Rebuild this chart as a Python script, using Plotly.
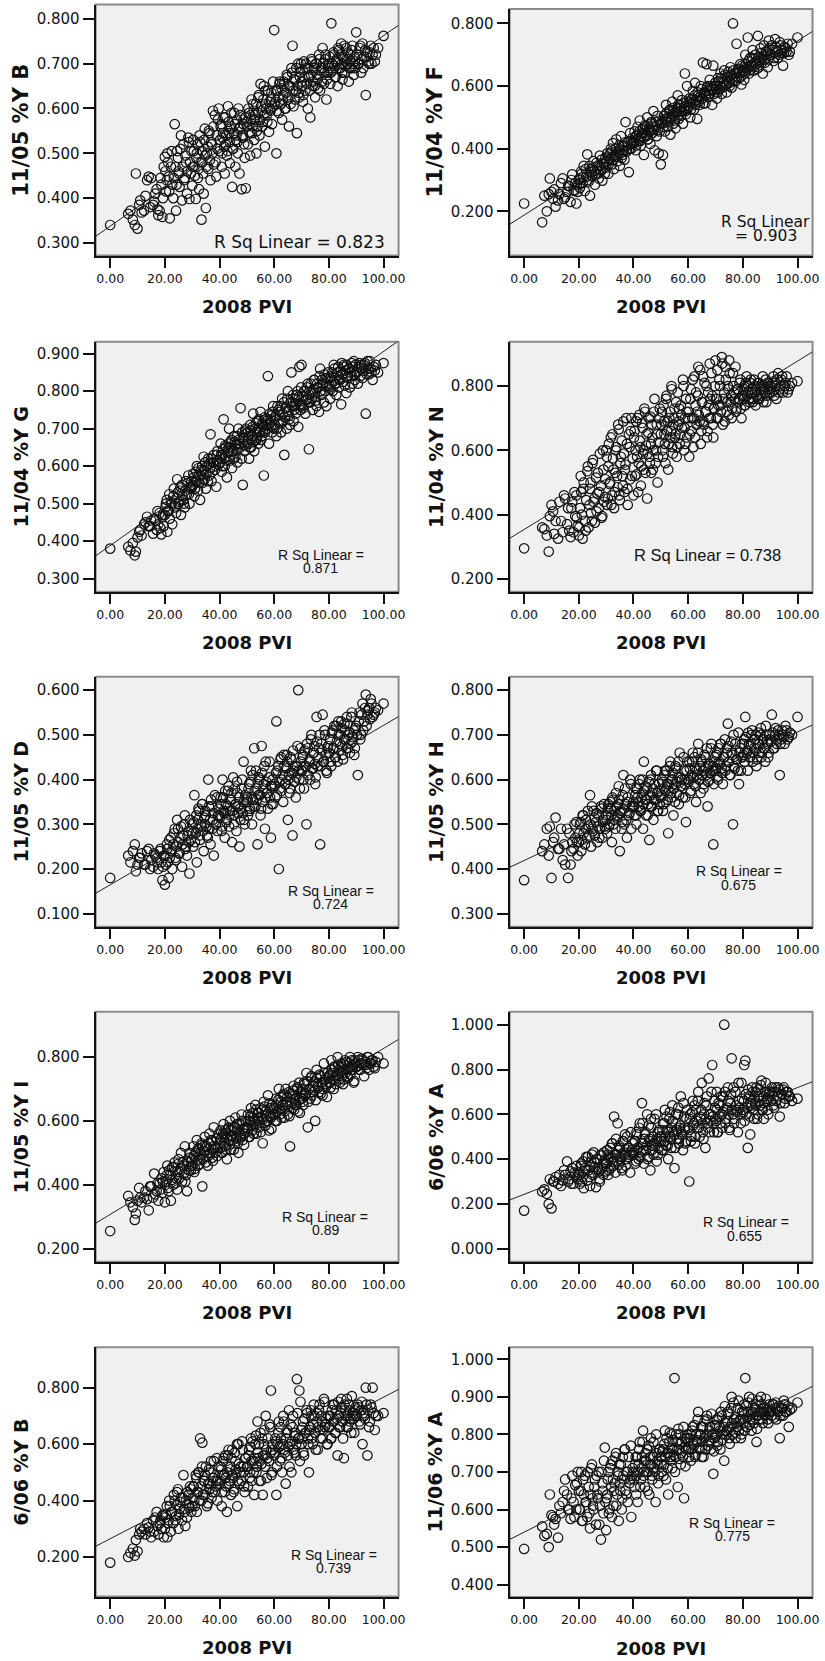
import plotly.graph_objects as go

W, H = 825, 1661

# ---------------- data ----------------
# shared x variable: 2008 PVI (same cases in every panel)
pvi_2008 = [
    0.0, 6.6, 7.4, 8.3, 9.0, 9.4, 10.0, 10.6, 11.5, 12.4, 14.1, 15.0, 15.7, 16.1, 17.0, 17.6, 18.1, 18.7, 19.1, 19.6,
    20.0, 20.4, 20.9, 21.4, 21.8, 22.2, 22.7, 23.1, 23.6, 24.1, 24.5, 25.0, 25.4, 25.9, 26.3, 26.8, 27.3, 27.7, 28.1, 28.6, 29.0, 29.5,
    30.0, 30.4, 30.8, 31.3, 31.7, 32.1, 32.5, 32.9, 33.4, 33.7, 34.2, 34.6, 35.0, 35.4, 35.9, 36.3, 36.7, 37.1, 37.6, 37.9, 38.3, 38.8, 39.2, 39.7,
    40.0, 40.4, 40.8, 41.1, 41.5, 41.9, 42.3, 42.7, 43.1, 43.5, 43.8, 44.2, 44.6, 45.0, 45.4, 45.8, 46.2, 46.5, 46.9, 47.3, 47.7, 48.1, 48.5, 48.8, 49.2, 49.6,
    50.0, 50.4, 50.8, 51.2, 51.5, 51.9, 52.3, 52.7, 53.1, 53.5, 53.9, 54.2, 54.6, 55.0, 55.4, 55.8, 56.2, 56.6, 56.9, 57.3, 57.7, 58.1, 58.5, 58.8, 59.2, 59.6,
    60.0, 60.4, 60.8, 61.2, 61.7, 62.1, 62.5, 62.9, 63.3, 63.7, 64.2, 64.6, 65.0, 65.4, 65.8, 66.3, 66.7, 67.1, 67.5, 67.9, 68.3, 68.8, 69.2, 69.6,
    70.0, 70.5, 70.9, 71.4, 71.8, 72.3, 72.7, 73.2, 73.6, 74.1, 74.5, 75.0, 75.5, 75.9, 76.4, 76.8, 77.3, 77.7, 78.2, 78.6, 79.1, 79.5,
    80.0, 80.5, 80.9, 81.4, 81.8, 82.3, 82.7, 83.2, 83.6, 84.1, 84.5, 85.0, 85.5, 85.9, 86.4, 86.8, 87.3, 87.7, 88.2, 88.6, 89.1, 89.5,
    90.0, 90.6, 91.2, 91.8, 92.3, 92.9, 93.5, 94.1, 94.7, 95.3, 96.0, 96.8, 98.0, 100.0,
    # second group of cases
    11.0, 12.9, 13.5, 14.6, 16.5, 17.3, 18.4, 19.3,
    20.2, 20.7, 21.1, 21.6, 22.5, 23.3, 23.9, 24.3, 24.8, 25.2, 25.7, 26.5, 27.0, 27.5, 28.3, 28.8, 29.2, 29.7,
    30.2, 30.6, 31.0, 31.5, 31.9, 32.3, 32.7, 33.1, 33.6, 34.0, 34.4, 34.8, 35.2, 35.7, 36.1, 36.5, 36.9, 37.4, 37.8, 38.6, 39.0, 39.4,
    40.2, 40.6, 41.0, 41.3, 41.7, 42.1, 42.5, 42.9, 43.3, 43.7, 44.0, 44.4, 44.8, 45.2, 45.6, 46.0, 46.4, 46.7, 47.1, 47.5, 48.3, 48.7, 49.0, 49.4,
    50.2, 50.6, 51.0, 51.3, 51.7, 52.1, 52.5, 52.9, 53.3, 53.7, 54.0, 54.4, 54.8, 55.2, 55.6, 56.0, 56.4, 56.7, 57.1, 57.5, 58.3, 58.7, 59.0, 59.4,
    60.2, 60.6, 61.0, 61.5, 61.9, 62.3, 62.7, 63.1, 63.5, 63.9, 64.4, 64.8, 65.2, 65.6, 66.0, 66.5, 66.9, 67.3, 67.7, 68.1, 68.5, 69.0, 69.4, 69.8,
    70.2, 70.4, 70.7, 71.1, 71.6, 72.0, 72.5, 72.9, 73.4, 73.8, 74.3, 74.7, 74.9, 75.2, 75.7, 76.1, 76.6, 77.0, 77.5, 77.9, 78.4, 78.8, 79.3, 79.7,
    80.2, 80.4, 80.7, 81.1, 81.6, 82.0, 82.5, 82.9, 83.4, 83.8, 84.3, 84.7, 84.9, 85.2, 85.7, 86.1, 86.6, 87.0, 87.5, 87.9, 88.4, 88.8, 89.3, 89.7,
    90.3, 90.9, 91.5, 92.0, 92.6, 93.2, 93.8, 94.4, 95.0, 95.6, 96.4, 97.2,
]

y_1105_B = [
    .340, .365, .372, .352, .340, .455, .332, .385, .368, .372, .448, .445, .385, .392, .420, .362, .372, .430, .358, .470,
    .492, .415, .500, .448, .355, .470, .430, .400, .565, .372, .505, .460, .425, .540, .395, .520, .445, .480, .410, .535, .398, .455,
    .428, .530, .470, .398, .500, .445, .420, .525, .352, .480, .410, .555, .378, .500, .465, .545, .440, .520, .595, .475, .585, .448, .510, .600,
    .505, .560, .470, .535, .580, .455, .520, .495, .605, .545, .478, .560, .425, .510, .590, .470, .540, .525, .600, .455, .560, .420, .535, .575, .490, .422,
    .560, .520, .590, .495, .575, .545, .610, .530, .585, .500, .560, .625, .540, .655, .595, .570, .650, .515, .610, .585, .640, .548, .600, .620, .565, .660,
    .775, .615, .500, .640, .590, .660, .610, .575, .630, .655, .600, .675, .620, .560, .650, .690, .740, .605, .665, .640, .545, .700, .625, .680,
    .660, .615, .705, .640, .690, .600, .670, .580, .710, .650, .685, .625, .700, .665, .720, .640, .690, .735, .655, .710, .620, .680,
    .700, .655, .790, .685, .720, .670, .705, .650, .730, .690, .745, .665, .710, .680, .735, .700, .660, .720, .690, .740, .675, .705,
    .770, .700, .735, .680, .745, .715, .630, .725, .700, .740, .720, .705, .735, .762,
    .395, .405, .440, .380, .410, .375, .445, .400,
    .460, .440, .480, .415, .505, .445, .470, .430, .490, .455, .510, .470, .440, .495, .460, .525, .480, .505,
    .470, .505, .450, .490, .520, .465, .540, .480, .505, .455, .530, .495, .470, .515, .550, .485, .525, .500, .560, .480, .540, .575,
    .530, .565, .500, .545, .515, .580, .540, .505, .570, .525, .555, .590, .510, .545, .565, .530, .575, .500, .555, .585, .540, .565, .520, .580,
    .570, .600, .545, .585, .620, .560, .595, .575, .610, .550, .590, .630, .575, .605, .560, .620, .585, .640, .600, .570, .615, .595, .635, .605,
    .610, .640, .595, .625, .655, .610, .645, .620, .660, .600, .635, .670, .625, .650, .610, .680, .640, .665, .620, .690, .650, .635, .670, .700,
    .650, .685, .630, .670, .700, .655, .690, .640, .675, .705, .660, .690, .650, .700, .675, .645, .710, .685, .660, .700, .680, .720, .665, .695,
    .690, .715, .680, .700, .725, .695, .670, .710, .735, .690, .720, .700, .680, .715, .740, .695, .710, .725, .690, .705, .730, .700, .715, .690,
    .720, .700, .740, .710, .690, .730, .715, .705, .725, .700, .735, .720,
]

y_1104_F = [
    .225, .165, .250, .200, .255, .305, .262, .240, .215, .235, .305, .245, .262, .282, .230, .318, .268, .290, .225, .262,
    .300, .275, .328, .290, .345, .265, .310, .382, .295, .250, .335, .312, .360, .285, .320, .345, .305, .378, .330, .298, .355, .320,
    .340, .385, .320, .365, .400, .350, .418, .335, .375, .430, .360, .395, .345, .440, .380, .410, .365, .485, .395, .420, .325, .450, .400, .435,
    .420, .455, .395, .440, .470, .425, .490, .410, .450, .465, .380, .475, .440, .500, .430, .460, .415, .485, .450, .520, .395, .470, .440, .505, .385, .455,
    .350, .480, .380, .505, .455, .540, .490, .470, .520, .445, .500, .550, .480, .515, .465, .530, .570, .495, .540, .505, .555, .480, .525, .640, .510, .600,
    .530, .560, .500, .545, .585, .525, .610, .555, .495, .570, .540, .600, .560, .675, .580, .545, .670, .600, .565, .620, .590, .540, .665, .600,
    .600, .560, .625, .590, .640, .575, .615, .650, .600, .580, .630, .610, .660, .595, .800, .640, .615, .735, .650, .625, .670, .605,
    .650, .620, .700, .660, .755, .640, .690, .665, .715, .650, .700, .680, .760, .660, .720, .690, .640, .730, .675, .710, .660, .745,
    .700, .730, .680, .750, .715, .690, .740, .705, .665, .725, .710, .700, .735, .755,
    .270, .255, .290, .240, .280, .300, .265, .285,
    .305, .290, .320, .310, .335, .300, .345, .325, .315, .340, .330, .355, .320, .345, .365, .335, .350, .370,
    .360, .375, .350, .385, .370, .395, .365, .380, .400, .375, .390, .410, .385, .370, .405, .395, .420, .390, .410, .400, .425, .415,
    .420, .435, .410, .445, .430, .455, .425, .440, .460, .435, .450, .470, .445, .430, .465, .455, .480, .450, .470, .460, .485, .475, .460, .490,
    .480, .490, .470, .505, .495, .515, .485, .500, .525, .495, .510, .530, .505, .490, .520, .515, .540, .510, .530, .520, .545, .535, .520, .550,
    .535, .550, .525, .560, .545, .570, .540, .555, .580, .550, .565, .590, .560, .545, .580, .570, .595, .565, .585, .575, .600, .590, .575, .610,
    .590, .605, .580, .615, .600, .625, .595, .610, .635, .605, .620, .645, .615, .600, .635, .625, .650, .620, .640, .630, .655, .645, .630, .665,
    .645, .660, .640, .670, .655, .680, .650, .665, .690, .660, .675, .700, .670, .655, .690, .680, .705, .675, .695, .685, .710, .700, .685, .720,
    .700, .715, .690, .725, .710, .700, .730, .715, .705, .720, .735, .710,
]

y_1104_G = [
    .380, .385, .375, .395, .362, .372, .410, .425, .415, .445, .440, .455, .420, .460, .430, .445, .475, .418, .465, .440,
    .470, .500, .425, .480, .460, .505, .445, .520, .490, .475, .565, .500, .535, .470, .550, .510, .490, .560, .525, .575, .500, .540,
    .545, .580, .520, .560, .600, .535, .575, .510, .590, .555, .625, .565, .540, .600, .620, .575, .685, .560, .610, .630, .590, .545, .640, .605,
    .610, .660, .585, .630, .725, .600, .650, .570, .640, .700, .615, .665, .595, .640, .680, .625, .660, .610, .700, .650, .755, .620, .550, .675, .640, .700,
    .665, .690, .620, .710, .650, .680, .740, .640, .700, .670, .720, .660, .695, .745, .680, .710, .575, .690, .725, .700, .840, .660, .715, .735, .690, .760,
    .700, .730, .680, .760, .715, .745, .690, .780, .720, .630, .755, .700, .800, .735, .710, .850, .770, .720, .760, .740, .790, .705, .865, .750,
    .870, .760, .800, .740, .780, .820, .645, .770, .800, .750, .830, .785, .760, .810, .745, .860, .790, .820, .770, .800, .760, .835,
    .810, .780, .840, .800, .870, .820, .790, .850, .810, .830, .765, .845, .870, .815, .795, .835, .860, .810, .840, .820, .880, .830,
    .850, .820, .875, .860, .835, .870, .740, .880, .845, .860, .830, .855, .850, .875,
    .430, .450, .465, .440, .455, .480, .435, .470,
    .490, .510, .480, .525, .500, .540, .495, .515, .530, .505, .545, .520, .500, .535, .555, .525, .545, .560,
    .550, .570, .540, .585, .560, .595, .555, .575, .600, .565, .590, .610, .580, .560, .605, .595, .620, .585, .610, .600, .630, .615,
    .610, .630, .600, .645, .620, .655, .615, .635, .660, .625, .650, .670, .640, .620, .665, .655, .680, .645, .670, .660, .690, .675, .655, .695,
    .660, .680, .650, .695, .670, .705, .665, .685, .715, .675, .700, .725, .690, .670, .715, .705, .730, .695, .720, .710, .740, .725, .705, .745,
    .710, .735, .700, .750, .720, .760, .715, .740, .770, .730, .755, .780, .745, .725, .770, .760, .790, .750, .780, .765, .800, .785, .765, .810,
    .765, .785, .755, .800, .775, .810, .770, .790, .820, .780, .805, .830, .795, .775, .820, .810, .840, .800, .830, .815, .845, .835, .815, .850,
    .815, .835, .805, .850, .825, .860, .820, .840, .865, .830, .855, .875, .845, .825, .865, .855, .870, .840, .860, .850, .875, .865, .845, .870,
    .850, .865, .840, .870, .855, .875, .845, .860, .880, .850, .865, .870,
]

y_1104_N = [
    .295, .360, .355, .335, .285, .395, .430, .410, .380, .325, .345, .450, .370, .420, .330, .440, .345, .395, .460, .365,
    .335, .420, .470, .325, .500, .380, .445, .535, .360, .480, .405, .560, .440, .375, .515, .465, .420, .590, .490, .395, .540, .455,
    .600, .430, .550, .495, .640, .460, .575, .420, .530, .610, .485, .665, .445, .580, .520, .690, .470, .555, .620, .430, .650, .510, .700, .575,
    .460, .660, .600, .525, .700, .560, .630, .490, .685, .590, .540, .720, .615, .450, .655, .580, .705, .530, .640, .600, .760, .560, .680, .500, .625, .730,
    .650, .720, .580, .690, .620, .760, .660, .540, .700, .640, .800, .610, .680, .730, .650, .580, .780, .690, .620, .740, .670, .820, .600, .700, .760, .640,
    .700, .580, .760, .660, .820, .700, .640, .780, .720, .860, .690, .620, .750, .830, .680, .720, .800, .660, .740, .870, .700, .770, .640, .730,
    .880, .760, .700, .820, .740, .890, .680, .780, .860, .720, .800, .880, .750, .700, .840, .780, .860, .730, .790, .760, .820, .700,
    .770, .800, .740, .830, .780, .760, .810, .790, .750, .820, .780, .800, .760, .810, .790, .770, .830, .800, .780, .750, .810, .790,
    .800, .780, .830, .810, .760, .840, .790, .820, .780, .800, .830, .790, .810, .815,
    .340, .440, .380, .460, .350, .420, .470, .390,
    .360, .520, .400, .480, .350, .550, .430, .500, .380, .570, .450, .410, .530, .470, .390, .600, .440, .510,
    .580, .450, .620, .500, .430, .650, .540, .470, .600, .520, .680, .460, .560, .630, .490, .590, .540, .700, .480, .610, .660, .520,
    .640, .520, .690, .580, .470, .710, .610, .550, .670, .600, .730, .530, .650, .590, .700, .560, .620, .680, .540, .720, .600, .650, .580, .700,
    .680, .600, .740, .650, .560, .770, .690, .620, .720, .660, .790, .590, .700, .640, .750, .610, .680, .730, .650, .710, .800, .670, .620, .720,
    .720, .650, .790, .700, .610, .830, .740, .680, .770, .710, .850, .660, .750, .690, .810, .720, .640, .780, .700, .760, .840, .680, .730, .800,
    .760, .700, .850, .740, .800, .720, .870, .760, .690, .820, .750, .790, .710, .840, .770, .730, .800, .760, .720, .790, .750, .810, .730, .770,
    .760, .790, .740, .810, .770, .800, .750, .820, .780, .760, .800, .740, .790, .770, .810, .760, .780, .800, .750, .790, .820, .770, .800, .780,
    .790, .810, .770, .800, .820, .780, .800, .830, .790, .810, .780, .800,
]

y_1105_D = [
    .180, .230, .215, .240, .255, .195, .210, .225, .235, .210, .245, .220, .205, .235, .225, .200, .240, .215, .175, .230,
    .165, .210, .245, .180, .225, .270, .200, .255, .290, .220, .310, .260, .235, .295, .205, .275, .320, .250, .230, .285, .190, .265,
    .300, .250, .365, .280, .215, .310, .330, .265, .295, .345, .240, .300, .320, .275, .400, .290, .255, .340, .310, .230, .365, .300, .285, .335,
    .320, .360, .285, .400, .330, .270, .345, .310, .375, .295, .330, .355, .260, .405, .320, .345, .285, .370, .340, .250, .310, .380, .325, .440, .300, .355,
    .360, .320, .390, .335, .420, .300, .355, .470, .340, .380, .255, .365, .400, .320, .475, .350, .390, .290, .440, .370, .335, .405, .360, .270, .385, .345,
    .390, .360, .530, .420, .200, .380, .450, .400, .350, .430, .390, .455, .310, .410, .380, .445, .275, .420, .395, .360, .430, .600, .400, .470,
    .420, .455, .380, .430, .300, .470, .440, .400, .500, .425, .460, .390, .540, .430, .470, .255, .480, .545, .440, .500, .420, .470,
    .460, .490, .430, .510, .470, .450, .520, .440, .500, .480, .530, .455, .490, .510, .470, .525, .500, .460, .540, .485, .510, .470,
    .520, .410, .550, .500, .570, .530, .590, .545, .560, .580, .540, .550, .555, .570,
    .225, .210, .240, .200, .230, .215, .245, .205,
    .230, .255, .215, .265, .240, .280, .225, .250, .290, .235, .270, .255, .300, .245, .275, .260, .310, .285,
    .280, .305, .260, .320, .290, .335, .275, .300, .345, .285, .315, .330, .295, .270, .340, .310, .355, .290, .325, .300, .360, .320,
    .315, .345, .295, .360, .325, .375, .305, .340, .385, .320, .355, .370, .330, .300, .380, .345, .395, .325, .360, .335, .400, .350, .310, .365,
    .350, .380, .330, .395, .360, .410, .340, .375, .420, .355, .390, .405, .365, .335, .415, .380, .430, .360, .395, .370, .440, .385, .345, .400,
    .385, .415, .365, .430, .395, .445, .375, .410, .455, .390, .425, .440, .400, .370, .450, .415, .465, .395, .430, .405, .475, .420, .380, .440,
    .420, .450, .400, .465, .430, .480, .410, .445, .490, .425, .460, .475, .435, .405, .485, .450, .500, .430, .465, .440, .510, .455, .415, .475,
    .460, .490, .440, .505, .470, .520, .450, .485, .530, .465, .500, .515, .475, .445, .525, .490, .540, .470, .505, .480, .550, .495, .455, .515,
    .500, .530, .490, .545, .510, .560, .520, .555, .535, .570, .545, .560,
]

y_1105_H = [
    .375, .440, .455, .490, .430, .495, .380, .460, .515, .445, .420, .410, .490, .380, .410, .460, .445, .470, .505, .430,
    .460, .500, .440, .520, .480, .455, .510, .470, .495, .565, .450, .490, .530, .475, .505, .460, .520, .490, .540, .470, .510, .495,
    .520, .480, .545, .500, .535, .460, .555, .510, .490, .540, .520, .585, .440, .530, .505, .610, .500, .545, .470, .560, .520, .600, .490, .540,
    .550, .520, .580, .500, .560, .540, .600, .530, .570, .490, .640, .555, .520, .580, .545, .465, .600, .540, .570, .510, .590, .555, .620, .530, .575, .545,
    .560, .600, .530, .580, .620, .550, .590, .480, .575, .640, .560, .600, .520, .590, .630, .570, .605, .545, .660, .585, .600, .560, .620, .590, .505, .640,
    .600, .640, .570, .610, .660, .590, .625, .550, .610, .680, .600, .570, .640, .620, .590, .650, .610, .540, .630, .600, .670, .620, .455, .640,
    .620, .660, .600, .640, .680, .625, .590, .650, .620, .670, .725, .640, .610, .660, .500, .630, .680, .645, .620, .590, .670, .650,
    .650, .690, .740, .660, .620, .680, .650, .700, .640, .670, .690, .630, .680, .660, .700, .650, .690, .670, .640, .700, .680, .660,
    .690, .745, .670, .700, .680, .710, .610, .690, .700, .680, .710, .695, .700, .740,
    .470, .445, .490, .455, .480, .440, .500, .460,
    .480, .505, .465, .520, .490, .530, .475, .500, .540, .485, .515, .525, .495, .470, .535, .505, .545, .490,
    .510, .535, .495, .550, .520, .560, .500, .530, .570, .515, .545, .555, .525, .490, .565, .535, .580, .510, .550, .525, .590, .540,
    .540, .565, .520, .580, .550, .590, .530, .560, .600, .545, .575, .585, .555, .520, .595, .565, .610, .540, .580, .555, .620, .570, .530, .590,
    .565, .595, .545, .610, .575, .620, .555, .590, .630, .570, .600, .615, .580, .550, .625, .595, .640, .565, .605, .585, .650, .600, .560, .620,
    .595, .625, .575, .640, .605, .650, .585, .620, .660, .600, .630, .645, .610, .580, .655, .625, .670, .595, .635, .615, .680, .630, .590, .650,
    .625, .655, .605, .670, .635, .680, .615, .650, .690, .630, .660, .675, .640, .610, .685, .655, .700, .625, .665, .645, .705, .660, .620, .680,
    .655, .680, .640, .695, .665, .705, .650, .675, .710, .660, .690, .700, .670, .645, .705, .680, .715, .660, .690, .670, .720, .685, .650, .700,
    .685, .705, .670, .715, .690, .700, .680, .710, .695, .720, .690, .705,
]

y_1105_I = [
    .255, .365, .345, .330, .290, .310, .350, .390, .345, .360, .320, .395, .360, .435, .380, .350, .405, .420, .375, .440,
    .345, .410, .460, .380, .430, .350, .455, .400, .470, .420, .385, .480, .440, .500, .410, .460, .520, .430, .380, .470, .500, .445,
    .480, .520, .440, .500, .540, .460, .510, .480, .530, .395, .505, .550, .470, .520, .490, .560, .500, .535, .475, .580, .515, .545, .490, .560,
    .530, .570, .500, .550, .590, .520, .560, .480, .575, .540, .600, .510, .555, .580, .530, .610, .545, .570, .500, .590, .555, .620, .540, .575, .560, .600,
    .580, .620, .550, .600, .640, .570, .610, .590, .650, .560, .625, .600, .580, .640, .610, .530, .660, .595, .630, .600, .680, .570, .640, .610, .650, .620,
    .640, .600, .670, .630, .700, .620, .660, .640, .680, .610, .700, .650, .620, .690, .520, .660, .640, .710, .680, .650, .700, .630, .720, .670,
    .690, .660, .720, .680, .750, .580, .700, .670, .740, .690, .720, .600, .760, .710, .690, .740, .720, .680, .780, .730, .710, .750,
    .740, .720, .790, .750, .700, .770, .740, .800, .760, .720, .780, .750, .730, .790, .760, .740, .780, .800, .760, .770, .720, .790,
    .770, .800, .760, .780, .790, .740, .775, .800, .760, .780, .790, .765, .800, .780,
    .360, .380, .355, .395, .370, .405, .385, .410,
    .400, .430, .390, .445, .415, .455, .405, .440, .465, .420, .450, .470, .435, .410, .475, .445, .485, .460,
    .460, .490, .450, .505, .475, .515, .465, .495, .525, .480, .505, .520, .490, .460, .530, .500, .540, .485, .520, .500, .545, .515,
    .515, .545, .500, .560, .530, .570, .510, .545, .580, .525, .555, .570, .540, .510, .580, .550, .590, .530, .565, .545, .600, .560, .525, .580,
    .570, .600, .550, .615, .585, .625, .560, .600, .635, .580, .610, .625, .595, .565, .635, .605, .645, .585, .620, .600, .655, .615, .575, .635,
    .620, .650, .600, .665, .635, .675, .610, .650, .685, .630, .660, .675, .645, .615, .685, .655, .695, .635, .670, .650, .705, .665, .625, .685,
    .670, .700, .650, .715, .685, .725, .660, .700, .735, .680, .710, .725, .695, .665, .735, .705, .745, .685, .720, .700, .750, .715, .675, .735,
    .720, .745, .705, .760, .730, .770, .715, .745, .775, .730, .755, .770, .740, .715, .775, .750, .785, .735, .765, .745, .790, .760, .725, .780,
    .770, .790, .760, .795, .775, .785, .765, .800, .780, .790, .770, .785,
]

y_0606_A = [
    .170, .255, .265, .245, .200, .310, .180, .300, .320, .290, .305, .330, .390, .300, .345, .360, .290, .330, .370, .310,
    .340, .290, .380, .320, .270, .360, .410, .305, .350, .280, .390, .330, .430, .365, .275, .400, .345, .300, .420, .360, .330, .395,
    .380, .440, .330, .410, .360, .470, .390, .590, .340, .420, .560, .375, .450, .400, .350, .480, .420, .370, .500, .410, .450, .340, .430, .470,
    .420, .480, .380, .520, .450, .400, .560, .430, .650, .470, .380, .510, .440, .600, .410, .490, .350, .540, .460, .420, .580, .480, .390, .520, .450, .500,
    .500, .440, .560, .480, .620, .460, .530, .400, .580, .500, .450, .640, .520, .360, .560, .490, .600, .470, .540, .680, .510, .440, .590, .530, .480, .620,
    .540, .300, .600, .500, .660, .560, .470, .620, .540, .700, .500, .580, .740, .520, .600, .450, .640, .560, .760, .520, .600, .820, .560, .660,
    .580, .700, .520, .640, .560, .600, .680, 1.000, .560, .620, .720, .540, .650, .850, .600, .560, .700, .620, .520, .660, .600, .740,
    .620, .820, .840, .600, .450, .680, .510, .640, .700, .580, .650, .720, .600, .680, .640, .750, .620, .580, .700, .660, .620, .690,
    .680, .720, .640, .700, .660, .720, .590, .690, .710, .650, .700, .680, .660, .670,
    .300, .330, .280, .350, .310, .290, .340, .320,
    .330, .370, .300, .390, .350, .410, .320, .365, .420, .340, .385, .400, .355, .310, .415, .375, .430, .345,
    .380, .420, .350, .450, .400, .470, .370, .420, .490, .390, .440, .460, .410, .360, .480, .430, .510, .400, .450, .420, .520, .440,
    .430, .480, .390, .510, .450, .540, .410, .470, .560, .440, .490, .520, .460, .400, .550, .480, .580, .440, .500, .470, .600, .490, .420, .530,
    .480, .530, .440, .560, .500, .590, .460, .520, .610, .490, .540, .570, .510, .450, .600, .530, .630, .490, .550, .520, .650, .540, .470, .580,
    .530, .580, .480, .610, .550, .640, .500, .570, .660, .540, .590, .620, .560, .490, .650, .580, .680, .540, .600, .570, .700, .590, .520, .630,
    .570, .620, .520, .650, .590, .680, .540, .610, .700, .580, .630, .660, .600, .530, .690, .620, .720, .580, .640, .610, .740, .630, .560, .670,
    .610, .660, .570, .690, .630, .710, .590, .650, .720, .620, .670, .700, .640, .580, .710, .660, .730, .620, .680, .650, .740, .670, .600, .700,
    .660, .700, .630, .720, .680, .710, .650, .690, .720, .670, .700, .680,
]

y_0606_B = [
    .180, .200, .215, .230, .205, .260, .220, .280, .290, .300, .305, .270, .330, .290, .360, .280, .320, .300, .345, .270,
    .300, .350, .270, .330, .380, .290, .360, .320, .400, .345, .430, .300, .370, .410, .330, .490, .360, .400, .340, .420, .375, .440,
    .380, .450, .400, .490, .360, .430, .500, .620, .400, .605, .470, .420, .520, .380, .460, .440, .500, .410, .480, .540, .430, .470, .400, .520,
    .460, .520, .380, .490, .550, .430, .480, .360, .560, .460, .510, .420, .580, .480, .440, .540, .500, .380, .600, .460, .520, .470, .580, .500, .430, .550,
    .520, .450, .580, .500, .620, .470, .540, .420, .600, .500, .680, .550, .470, .640, .530, .420, .600, .560, .700, .480, .620, .540, .660, .790, .500, .580,
    .560, .620, .420, .600, .680, .540, .620, .500, .700, .580, .460, .640, .560, .720, .600, .500, .660, .580, .640, .560, .830, .620, .790, .750,
    .600, .680, .560, .640, .720, .620, .500, .660, .700, .600, .740, .640, .680, .580, .720, .650, .700, .620, .760, .660, .690, .600,
    .660, .700, .620, .740, .680, .640, .720, .560, .700, .660, .760, .680, .550, .720, .660, .700, .740, .680, .640, .710, .690, .720,
    .700, .740, .680, .720, .600, .700, .800, .560, .660, .740, .800, .650, .700, .710,
    .300, .280, .320, .290, .340, .310, .330, .350,
    .340, .380, .320, .400, .360, .420, .330, .385, .440, .350, .395, .410, .370, .310, .430, .385, .450, .360,
    .410, .450, .380, .480, .430, .500, .400, .450, .520, .420, .470, .490, .440, .390, .510, .460, .540, .430, .480, .450, .550, .470,
    .470, .510, .430, .540, .490, .560, .450, .500, .580, .470, .520, .550, .490, .430, .570, .510, .600, .470, .530, .500, .610, .520, .450, .550,
    .520, .560, .480, .590, .540, .610, .500, .550, .630, .520, .570, .600, .540, .470, .620, .560, .650, .520, .580, .550, .670, .570, .490, .600,
    .570, .610, .520, .640, .590, .660, .550, .600, .680, .570, .620, .650, .590, .520, .670, .610, .700, .570, .630, .600, .710, .620, .540, .650,
    .620, .660, .570, .690, .640, .710, .600, .650, .720, .620, .670, .700, .640, .580, .710, .660, .740, .620, .680, .650, .750, .670, .600, .700,
    .660, .700, .620, .720, .680, .740, .640, .690, .750, .660, .710, .730, .680, .620, .740, .700, .760, .660, .720, .690, .770, .700, .640, .730,
    .700, .730, .670, .750, .710, .690, .740, .720, .680, .730, .710, .700,
]

y_1106_A = [
    .495, .555, .530, .535, .500, .640, .585, .580, .575, .525, .620, .680, .640, .600, .575, .690, .620, .665, .600, .700,
    .650, .600, .700, .570, .640, .690, .620, .580, .660, .550, .710, .630, .600, .680, .560, .640, .700, .610, .520, .670, .590, .765,
    .545, .640, .700, .600, .720, .580, .680, .650, .740, .610, .700, .570, .670, .720, .630, .690, .760, .650, .700, .620, .740, .680, .580, .710,
    .700, .660, .740, .690, .620, .720, .780, .680, .740, .810, .700, .660, .730, .760, .700, .640, .740, .720, .680, .780, .700, .620, .750, .720, .690, .760,
    .740, .700, .760, .720, .810, .680, .750, .640, .780, .740, .800, .710, .760, .950, .740, .780, .660, .760, .800, .720, .780, .740, .630, .790, .760, .800,
    .780, .740, .800, .760, .820, .770, .740, .800, .780, .860, .760, .800, .740, .820, .790, .760, .840, .800, .780, .820, .760, .800, .695, .790,
    .800, .840, .780, .820, .760, .850, .800, .730, .830, .810, .860, .790, .820, .900, .800, .840, .790, .830, .870, .810, .840, .800,
    .840, .880, .950, .820, .860, .900, .840, .810, .860, .830, .870, .780, .850, .840, .860, .880, .830, .860, .850, .870, .840, .860,
    .860, .850, .880, .870, .840, .860, .790, .870, .850, .880, .860, .820, .870, .885,
    .560, .610, .590, .650, .600, .630, .580, .670,
    .600, .650, .570, .680, .620, .700, .590, .640, .720, .610, .660, .690, .630, .560, .700, .650, .730, .620,
    .630, .680, .590, .710, .660, .730, .610, .670, .750, .640, .690, .720, .650, .600, .740, .680, .760, .640, .700, .670, .770, .690,
    .680, .720, .640, .740, .700, .760, .660, .710, .780, .690, .730, .750, .700, .650, .770, .720, .790, .690, .740, .710, .800, .730, .670, .760,
    .720, .755, .690, .775, .740, .790, .710, .750, .805, .730, .765, .785, .745, .700, .800, .760, .815, .735, .775, .750, .820, .765, .715, .790,
    .760, .790, .730, .810, .775, .825, .745, .785, .840, .765, .800, .820, .780, .740, .835, .795, .850, .770, .810, .785, .855, .800, .755, .825,
    .795, .825, .770, .845, .810, .860, .785, .820, .875, .800, .835, .855, .815, .775, .870, .830, .885, .805, .845, .820, .890, .835, .790, .860,
    .830, .860, .810, .875, .845, .885, .825, .855, .895, .840, .865, .880, .850, .815, .890, .860, .900, .840, .870, .855, .895, .865, .830, .880,
    .860, .880, .845, .885, .865, .875, .850, .870, .890, .860, .875, .865,
]

y_titles = ["11/05 %Y B", "11/04 %Y F", "11/04 %Y G", "11/04 %Y N", "11/05 %Y D",
            "11/05 %Y H", "11/05 %Y I", "6/06 %Y A", "6/06 %Y B", "11/06 %Y A"]
x_title = "2008 PVI"
r_squared = ["0.823", "0.903", "0.871", "0.738", "0.724", "0.675", "0.89", "0.655", "0.739", "0.775"]
# fit lines: y = intercept + slope * PVI
fit_intercepts = [0.3375, 0.188, 0.388, 0.3536, 0.1646, 0.419, 0.307, 0.2427, 0.2646, 0.5397]
fit_slopes = [0.00425, 0.00556, 0.00518, 0.00524, 0.003566, 0.002874, 0.005198, 0.004766, 0.005016, 0.003682]
x_tick_values = [0, 20, 40, 60, 80, 100]
y_tick_values = [
    [0.3, 0.4, 0.5, 0.6, 0.7, 0.8],
    [0.2, 0.4, 0.6, 0.8],
    [0.3, 0.4, 0.5, 0.6, 0.7, 0.8, 0.9],
    [0.2, 0.4, 0.6, 0.8],
    [0.1, 0.2, 0.3, 0.4, 0.5, 0.6],
    [0.3, 0.4, 0.5, 0.6, 0.7, 0.8],
    [0.2, 0.4, 0.6, 0.8],
    [0.0, 0.2, 0.4, 0.6, 0.8, 1.0],
    [0.2, 0.4, 0.6, 0.8],
    [0.4, 0.5, 0.6, 0.7, 0.8, 0.9, 1.0],
]

series = [y_1105_B, y_1104_F, y_1104_G, y_1104_N, y_1105_D,
          y_1105_H, y_1105_I, y_0606_A, y_0606_B, y_1106_A]

# ---------------- layout / styling ----------------
X_RANGE = [-5.3, 105.5]
Y_RANGES = [
    [0.272, 0.832], [0.059, 0.846], [0.265, 0.932], [0.160, 0.938], [0.071, 0.630],
    [0.271, 0.830], [0.159, 0.942], [-0.058, 1.058], [0.060, 0.943], [0.367, 1.032],
]
COL_PX = [(96.5, 402.0), (514.0, 819.5)]
BOX_PX = [(4.5, 255.5), (9.0, 255.5), (341.7, 591.7), (341.7, 591.7), (676.7, 926.7),
          (676.7, 926.7), (1011.7, 1261.7), (1011.7, 1261.7), (1347.3, 1596.5), (1347.3, 1597.0)]
YTITLE_X = [21, 439]
YTITLE_SIZE = [21, 21, 19, 19, 19, 19, 19, 19, 19, 19]

# R sq label style per panel: (kind, centre positions, font family, size)
R2_STYLE = [
    ("single", [(302, 241.7)], "DejaVu Sans", 17),
    ("split_eq", [(772, 222.0), (772.5, 236.5)], "DejaVu Sans", 15.5),
    ("split", [(324, 554.5), (323, 567.8)], "Liberation Sans", 14),
    ("single", [(713.7, 555)], "Liberation Sans", 16.5),
    ("split", [(334, 890.5), (333.7, 903.8)], "Liberation Sans", 14),
    ("split", [(745.5, 871.2), (745, 884.5)], "Liberation Sans", 14),
    ("split", [(328, 1216.8), (328, 1229.8)], "Liberation Sans", 14),
    ("split", [(752, 1221.8), (751, 1235.5)], "Liberation Sans", 14),
    ("split", [(337, 1554.5), (336.7, 1567.8)], "Liberation Sans", 14),
    ("split", [(738.7, 1522.8), (738.3, 1536.2)], "Liberation Sans", 14),
]

INK = "#111111"
fig = go.Figure()
layout = dict(
    width=W, height=H, autosize=False,
    margin=dict(l=0, r=0, t=0, b=0),
    paper_bgcolor="white", plot_bgcolor="#F0F0F0",
    showlegend=False, hovermode=False,
    font=dict(family="DejaVu Sans", color=INK),
)
annotations = []
shapes = []


def px_x(px):
    return px / W


def px_y(py):
    return 1 - py / H


for i, ys in enumerate(series):
    sfx = "" if i == 0 else str(i + 1)
    col = i % 2
    x0, x1 = COL_PX[col]
    top, bot = BOX_PX[i]
    n = min(len(pvi_2008), len(ys))

    fig.add_trace(go.Scatter(
        x=pvi_2008[:n], y=ys[:n], mode="markers",
        marker=dict(symbol="circle-open", size=9.5, color=INK, line=dict(width=1.2, color=INK)),
        xaxis="x" + sfx, yaxis="y" + sfx, hoverinfo="skip",
    ))
    a, b = fit_intercepts[i], fit_slopes[i]
    fig.add_trace(go.Scatter(
        x=X_RANGE, y=[a + b * X_RANGE[0], a + b * X_RANGE[1]], mode="lines",
        line=dict(color="#222222", width=1),
        xaxis="x" + sfx, yaxis="y" + sfx, hoverinfo="skip",
    ))

    layout["xaxis" + sfx] = dict(
        domain=[px_x(x0), px_x(x1)], range=X_RANGE, anchor="y" + sfx,
        tickmode="array", tickvals=x_tick_values, tickformat=".2f",
        ticks="outside", ticklen=10, tickwidth=2, tickcolor=INK,
        showline=True, linecolor=INK, linewidth=2, mirror=False,
        showgrid=False, zeroline=False, fixedrange=True,
        tickfont=dict(family="DejaVu Sans", size=12.5, color=INK),
    )
    layout["yaxis" + sfx] = dict(
        domain=[px_y(bot), px_y(top)], range=Y_RANGES[i], anchor="x" + sfx,
        tickmode="array", tickvals=y_tick_values[i], tickformat=".3f",
        ticks="outside", ticklen=11, tickwidth=2, tickcolor=INK,
        showline=True, linecolor=INK, linewidth=2, mirror=False,
        showgrid=False, zeroline=False, fixedrange=True,
        tickfont=dict(family="DejaVu Sans", size=15, color=INK),
    )
    shapes.append(dict(
        type="rect", xref="x" + sfx + " domain", yref="y" + sfx + " domain",
        x0=0, x1=1, y0=0, y1=1, line=dict(color="#8a8a8a", width=2), layer="below",
    ))

    # axis titles
    annotations.append(dict(
        text="<b>" + x_title + "</b>", xref="paper", yref="paper",
        x=px_x((x0 + x1) / 2), y=px_y(bot + 51), xanchor="center", yanchor="middle",
        showarrow=False, font=dict(family="DejaVu Sans", size=18, color=INK),
    ))
    annotations.append(dict(
        text="<b>" + y_titles[i] + "</b>", xref="paper", yref="paper",
        x=px_x(YTITLE_X[col]), y=px_y((top + bot) / 2), xanchor="center", yanchor="middle",
        textangle=-90, showarrow=False,
        font=dict(family="DejaVu Sans", size=YTITLE_SIZE[i], color=INK),
    ))

    kind, pos, fam, size = R2_STYLE[i]
    if kind == "single":
        lines = ["R Sq Linear = " + r_squared[i]]
    elif kind == "split_eq":
        lines = ["R Sq Linear", "= " + r_squared[i]]
    else:
        lines = ["R Sq Linear =", r_squared[i]]
    for txt, (cx, cy) in zip(lines, pos):
        annotations.append(dict(
            text=txt, xref="paper", yref="paper", x=px_x(cx), y=px_y(cy),
            xanchor="center", yanchor="middle", showarrow=False,
            font=dict(family=fam, size=size, color=INK),
        ))

layout["annotations"] = annotations
layout["shapes"] = shapes
fig.update_layout(**layout)
fig.write_html(
    "out.html",
    config={"displayModeBar": False, "staticPlot": True},
    post_script="document.body.style.margin='0px';document.body.style.overflow='hidden';",
)
